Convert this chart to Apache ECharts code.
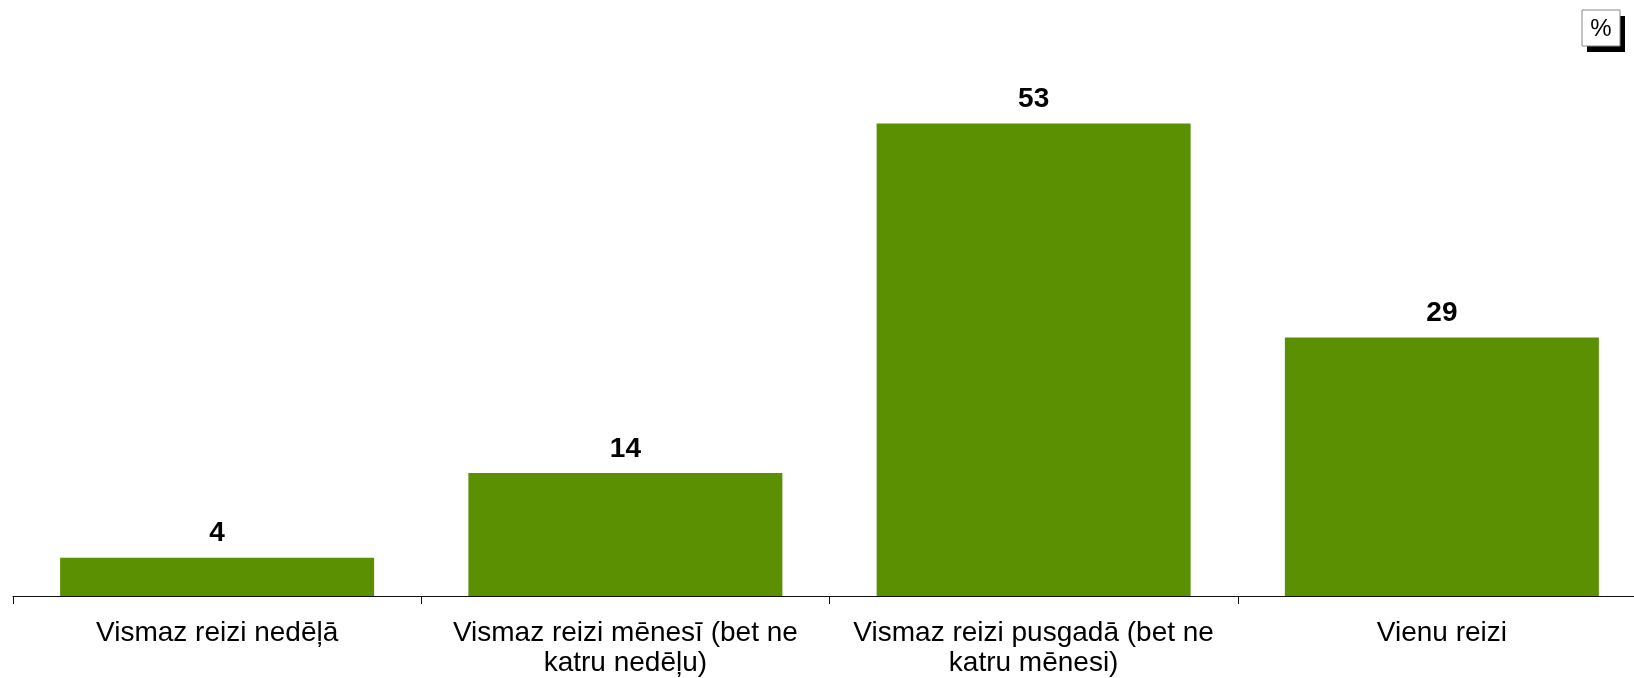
<!DOCTYPE html>
<html>
<head>
<meta charset="utf-8">
<script src="https://cdn.jsdelivr.net/npm/echarts@6/dist/echarts.min.js"></script>
<style>
  html, body { margin: 0; padding: 0; background: #fff; overflow: hidden; }
  /* zīmējums ir platāks par logu: x ass turpinās aiz labās malas */
  #barChart { width: 1646px; height: 678px; }
</style>
</head>
<body>
<div id="barChart"></div>
<script>
// kategorijas (ar rindas pārnesumu kā attēlā)
const categories = [
  'Vismaz reizi nedēļā',
  'Vismaz reizi mēnesī (bet ne\nkatru nedēļu)',
  'Vismaz reizi pusgadā (bet ne\nkatru mēnesi)',
  'Vienu reizi'
]
// vērtības, %  (nolasītas no stabiņu augstuma, uzraksti noapaļoti)
const values = [4.3, 13.8, 53, 29]
const unitLabel = '%'

const barColor = '#5b9003'
const font = '"Liberation Sans", Arial, sans-serif'

const chart = echarts.init(document.getElementById('barChart'))

const option = {
  animation: false,
  grid: {
    left: 13,
    right: 0,
    top: 61,
    bottom: 81,
    containLabel: false
  },
  xAxis: {
    type: 'category',
    data: categories,
    axisLine: {
      lineStyle: { color: '#111', width: 1 }
    },
    axisTick: {
      show: true,
      length: 8,
      lineStyle: { color: '#111' }
    },
    axisLabel: {
      interval: 0,
      margin: 22,
      color: '#000',
      fontFamily: font,
      fontSize: 28,
      lineHeight: 30
    }
  },
  yAxis: {
    type: 'value',
    min: 0,
    max: 60,
    show: false,
    splitLine: { show: false }
  },
  series: [
    {
      type: 'bar',
      data: values,
      barWidth: 314,
      itemStyle: { color: barColor },
      label: {
        show: true,
        position: 'top',
        distance: 10,
        color: '#000',
        fontFamily: font,
        fontSize: 28,
        fontWeight: 'bold',
        formatter: p => Math.round(p.value)
      }
    }
  ],
  graphic: [
    { // ēna
      type: 'rect',
      shape: { x: 1587, y: 16, width: 38, height: 36 },
      style: { fill: '#000' }
    },
    {
      type: 'rect',
      shape: { x: 1582, y: 10, width: 38, height: 36 },
      style: { fill: '#fff', stroke: '#888', lineWidth: 1 }
    },
    {
      type: 'text',
      x: 1601,
      y: 29,
      style: {
        text: unitLabel,
        fill: '#000',
        font: '24px ' + font,
        align: 'center',
        verticalAlign: 'middle'
      }
    }
  ]
}

chart.setOption(option)
</script>
</body>
</html>
